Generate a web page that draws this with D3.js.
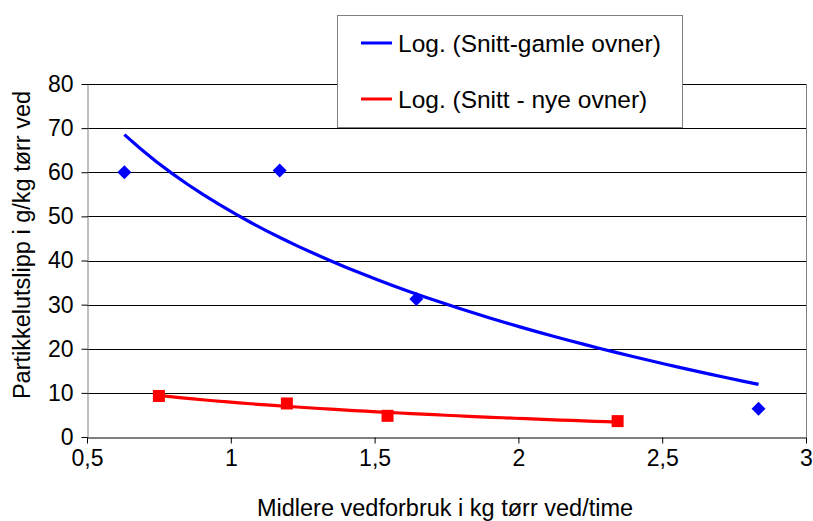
<!DOCTYPE html>
<html>
<head>
<meta charset="utf-8">
<script src="https://cdn.jsdelivr.net/npm/d3@7"></script>
<style>
  html, body { margin: 0; padding: 0; background: #fff; }
  svg { display: block; font-family: Arial, "Liberation Sans", sans-serif; }
</style>
</head>
<body>
<svg id="chart" width="813" height="521"></svg>
<script>
// ---- data ----
const oldStovesX = [0.63, 1.17, 1.645, 2.835];
const oldStovesY = [60.0, 60.4, 31.3, 6.4];
const newStovesX = [0.75, 1.195, 1.545, 2.345];
const newStovesY = [9.3, 7.6, 4.8, 3.6];
const xTickValues = [0.5, 1, 1.5, 2, 2.5, 3];
const xTickLabels = ["0,5", "1", "1,5", "2", "2,5", "3"];
const yTickValues = [0, 10, 20, 30, 40, 50, 60, 70, 80];
const legendLabels = ["Log. (Snitt-gamle ovner)", "Log. (Snitt - nye ovner)"];
const xTitle = "Midlere vedforbruk i kg tørr ved/time";
const yTitle = "Partikkelutslipp i g/kg tørr ved";

// ---- layout ----
const svg = d3.select("#chart");
const x = d3.scaleLinear().domain([0.5, 3]).range([87, 806]);
const y = d3.scaleLinear().domain([0, 80]).range([437, 84]);
const BLUE = "#0000ff", RED = "#ff0000";
const FONT = "Arial, 'Liberation Sans', sans-serif";

// gridlines
svg.append("g").selectAll("line").data(yTickValues.filter(v => v > 0)).join("line")
  .attr("x1", x(0.5)).attr("x2", x(3))
  .attr("y1", d => Math.round(y(d)) + 0.5).attr("y2", d => Math.round(y(d)) + 0.5)
  .attr("stroke", "#000").attr("stroke-width", 1);

// right border
svg.append("line")
  .attr("x1", Math.round(x(3)) + 0.5).attr("x2", Math.round(x(3)) + 0.5)
  .attr("y1", y(80)).attr("y2", y(0))
  .attr("stroke", "#808080").attr("stroke-width", 1);

// axes
const xAxis = d3.axisBottom(x).tickValues(xTickValues)
  .tickFormat((d, i) => xTickLabels[i]).tickSizeInner(6).tickSizeOuter(0).tickPadding(6);
const gx = svg.append("g").attr("transform", `translate(0,${Math.round(y(0)) + 0.5})`).call(xAxis);
gx.select(".domain").attr("stroke", "#000");
gx.selectAll(".tick line").attr("stroke", "#000");
gx.selectAll("text").attr("font-size", 23).attr("fill", "#000").attr("font-family", FONT);

const yAxis = d3.axisLeft(y).tickValues(yTickValues).tickSizeInner(6).tickSizeOuter(0).tickPadding(8);
const gy = svg.append("g").attr("transform", `translate(${Math.round(x(0.5)) + 0.5},0)`).call(yAxis);
gy.select(".domain").attr("stroke", "#808080");
gy.selectAll(".tick line").attr("stroke", "#000");
gy.selectAll("text").attr("font-size", 23).attr("fill", "#000").attr("font-family", FONT);

// logarithmic trendlines (least squares on ln x), like the spreadsheet's "Log." trend
function logFit(xs, ys) {
  const lx = xs.map(Math.log);
  const mx = d3.mean(lx), my = d3.mean(ys);
  const b = d3.sum(lx, (v, i) => (v - mx) * (ys[i] - my)) / d3.sum(lx, v => (v - mx) * (v - mx));
  const a = my - b * mx;
  const [lo, hi] = d3.extent(xs);
  return d3.range(0, 41).map(k => {
    const xv = lo + (hi - lo) * k / 40;
    return [xv, a + b * Math.log(xv)];
  });
}
const line = d3.line().x(d => x(d[0])).y(d => y(d[1]));

svg.append("path").attr("d", line(logFit(oldStovesX, oldStovesY)))
  .attr("fill", "none").attr("stroke", BLUE).attr("stroke-width", 3.2);
svg.append("path").attr("d", line(logFit(newStovesX, newStovesY)))
  .attr("fill", "none").attr("stroke", RED).attr("stroke-width", 3.2);

// markers
svg.append("g").selectAll("path").data(oldStovesX.map((v, i) => [v, oldStovesY[i]])).join("path")
  .attr("d", "M0,-7L7,0L0,7L-7,0Z")
  .attr("transform", d => `translate(${x(d[0])},${y(d[1])})`)
  .attr("fill", BLUE);
svg.append("g").selectAll("rect").data(newStovesX.map((v, i) => [v, newStovesY[i]])).join("rect")
  .attr("x", d => x(d[0]) - 6).attr("y", d => y(d[1]) - 6)
  .attr("width", 12).attr("height", 12).attr("fill", RED);

// legend
const lg = svg.append("g");
lg.append("rect").attr("x", 337.5).attr("y", 15.5).attr("width", 345).attr("height", 112)
  .attr("fill", "#fff").attr("stroke", "#808080").attr("stroke-width", 1);
[BLUE, RED].forEach((c, i) => {
  const yy = 43 + i * 56;
  lg.append("line").attr("x1", 361).attr("x2", 392).attr("y1", yy).attr("y2", yy)
    .attr("stroke", c).attr("stroke-width", 3);
  lg.append("text").attr("x", 398).attr("y", yy).attr("dy", "0.35em")
    .attr("font-size", 24.5).attr("fill", "#000").text(legendLabels[i]);
});

// axis titles
svg.append("text").attr("x", 445).attr("y", 508).attr("dy", "0.35em")
  .attr("text-anchor", "middle").attr("font-size", 23.5).attr("fill", "#000").text(xTitle);
svg.append("text").attr("transform", "translate(22,245) rotate(-90)").attr("dy", "0.35em")
  .attr("text-anchor", "middle").attr("font-size", 23.5).attr("fill", "#000").text(yTitle);
</script>
</body>
</html>
